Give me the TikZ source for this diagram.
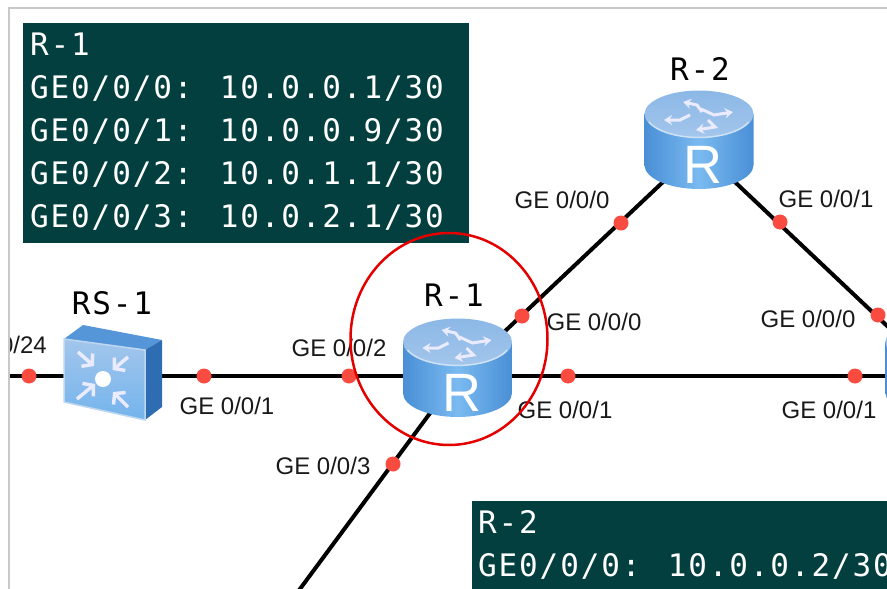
\documentclass[tikz,border=0pt]{standalone}
\usepackage{fontspec}
\setmainfont{Liberation Sans}
\newfontfamily\boxfont[LetterSpace=6]{DejaVu Sans Mono}
\usetikzlibrary{arrows.meta}
\definecolor{boxteal}{HTML}{033F3F}
\definecolor{dotred}{HTML}{F94B40}
\definecolor{bluedark}{HTML}{4A8FD6}
\definecolor{bluelight}{HTML}{7ABAF0}
\definecolor{bluetop}{HTML}{93BCE8}
\definecolor{blueside}{HTML}{2F6DB2}
\definecolor{framegray}{HTML}{C8C8C8}
\tikzset{
    link/.style={line width=4pt},
    port/.style={circle,fill=dotred,inner sep=0pt,minimum size=15pt},
    portlabel/.style={font=\fontsize{24}{24}\selectfont,text=black!90,inner sep=0pt},
    devlabel/.style={font=\boxfont\fontsize{31}{31}\selectfont,text=black,inner sep=0pt},
    boxtext/.style={font=\boxfont\fontsize{31}{43}\selectfont,text=white,align=left,inner sep=0pt,anchor=north west},
    infobox/.style={fill=boxteal},
    flow/.style={white!92!blue,line width=3pt,-{Stealth[length=8pt,width=10pt]}},
    inflow/.style={white!92!blue,line width=3.5pt,-{Straight Barb[length=7pt,width=17pt,line width=3.5pt]}},
    router/.pic={
        \shade[left color=bluedark,right color=bluedark,middle color=bluelight]
            (-54.5,-34) -- (-54.5,17) arc[start angle=180,end angle=0,x radius=54.5,y radius=24] -- (54.5,-34) -- cycle;
        \shade[top color=bluetop!90!bluedark,bottom color=bluetop!85!white]
            (0,-34) ellipse [x radius=54.5,y radius=23.5];
        \draw[bluetop!45!white,line width=1.5pt] (-50,-26) arc[start angle=160,end angle=20,x radius=53,y radius=23.5];
        \draw[flow] (3,-36) -- (-2,-43) -- (-16,-46);
        \draw[flow] (2,-39) -- (15,-33) -- (34,-36);
        \draw[flow] (-9,-33) -- (-19,-28) -- (-35,-28);
        \draw[flow] (9,-28) -- (16,-21) -- (-3,-18);
        \node[text=white,font=\fontsize{54}{54}\selectfont,inner sep=0pt] at (4,17) {R};
    },
    rswitch/.pic={
        \fill[bluedark!85!bluetop] (-47,-37) -- (-28,-51) -- (51,-36) -- (34,-26) -- cycle;
        \fill[blueside] (34,-26) -- (51,-36) -- (51,31) -- (34,44) -- cycle;
        \shade[top color=bluetop!85!white,bottom color=bluelight!85!bluedark,draw=bluetop!60!white,line width=1.5pt]
            (-47,-37) -- (34,-26) -- (34,44) -- (-47,26) -- cycle;
        \fill[white] (-8,3) circle (8);
        \draw[inflow] (-33,-24) -- (-17,-10);
        \draw[inflow] (17,-19) -- (1.7,-6);
        \draw[inflow] (-34,23) -- (-16,8);
        \draw[inflow] (17,31) -- (2,16);
    },
}
\begin{document}
\begin{tikzpicture}[x=1pt,y=-1pt]
    \useasboundingbox (0,0) rectangle (887,589);
    \begin{scope}
        \clip (10,9) rectangle (887,589);

        % devices
        \coordinate (RS1) at (111,376);
        \coordinate (R1) at (457.5,376);
        \coordinate (R2) at (699,148);
        \coordinate (R3) at (940,376);
        \coordinate (west) at (0,376);
        \coordinate (south) at (297,593);

        % links
        \draw[link] (west) -- (RS1);
        \draw[link] (RS1) -- (R1);
        \draw[link] (R1) -- (R3);
        \draw[link] (R1) -- (R2);
        \draw[link] (R2) -- (R3);
        \draw[link] (R1) -- (south);

        \pic at (RS1) {rswitch};
        \pic at (R1) {router};
        \pic at (R2) {router};
        \pic at (R3) {router};

        \node[devlabel] (nameRS1) at (112,303) {RS-1};
        \node[devlabel] (nameR1) at (454,295) {R-1};
        \node[devlabel] (nameR2) at (700,69) {R-2};

        % ports
        \node[port] (p1) at (29,376) {};
        \node[port] (p2) at (204,376) {};
        \node[port] (p3) at (349,376) {};
        \node[port] (p4) at (568,376) {};
        \node[port] (p5) at (855,376) {};
        \node[port] (p6) at (522,316) {};
        \node[port] (p7) at (621,223) {};
        \node[port] (p8) at (780,222) {};
        \node[port] (p9) at (878,315) {};
        \node[port] (p10) at (393,464) {};

        \node[portlabel,anchor=east] (l1) at (47,345) {0/24};
        \node[portlabel] (l2) at (227,406) {GE 0/0/1};
        \node[portlabel] (l3) at (339,348) {GE 0/0/2};
        \node[portlabel] (l4) at (565,410) {GE 0/0/1};
        \node[portlabel] (l5) at (829,410) {GE 0/0/1};
        \node[portlabel] (l6) at (594,322) {GE 0/0/0};
        \node[portlabel] (l7) at (562,200) {GE 0/0/0};
        \node[portlabel] (l8) at (826,199) {GE 0/0/1};
        \node[portlabel] (l9) at (808,319) {GE 0/0/0};
        \node[portlabel] (l10) at (323,466) {GE 0/0/3};

        % address boxes
        \fill[infobox] (23,23) rectangle (469,243);
        \node[boxtext] (box1) at (30,32.5) {R-1\\GE0/0/0: 10.0.0.1/30\\GE0/0/1: 10.0.0.9/30\\GE0/0/2: 10.0.1.1/30\\GE0/0/3: 10.0.2.1/30};
        \fill[infobox] (472,501) rectangle (887,589);
        \node[boxtext] (box2) at (478,510) {R-2\\GE0/0/0: 10.0.0.2/30};

        \draw[red!90!black,line width=2.5pt] (449,339) ellipse [x radius=98.5,y radius=106];
    \end{scope}
    \draw[framegray,line width=2pt] (9,589) -- (9,8) -- (887,8);
\end{tikzpicture}
\end{document}
